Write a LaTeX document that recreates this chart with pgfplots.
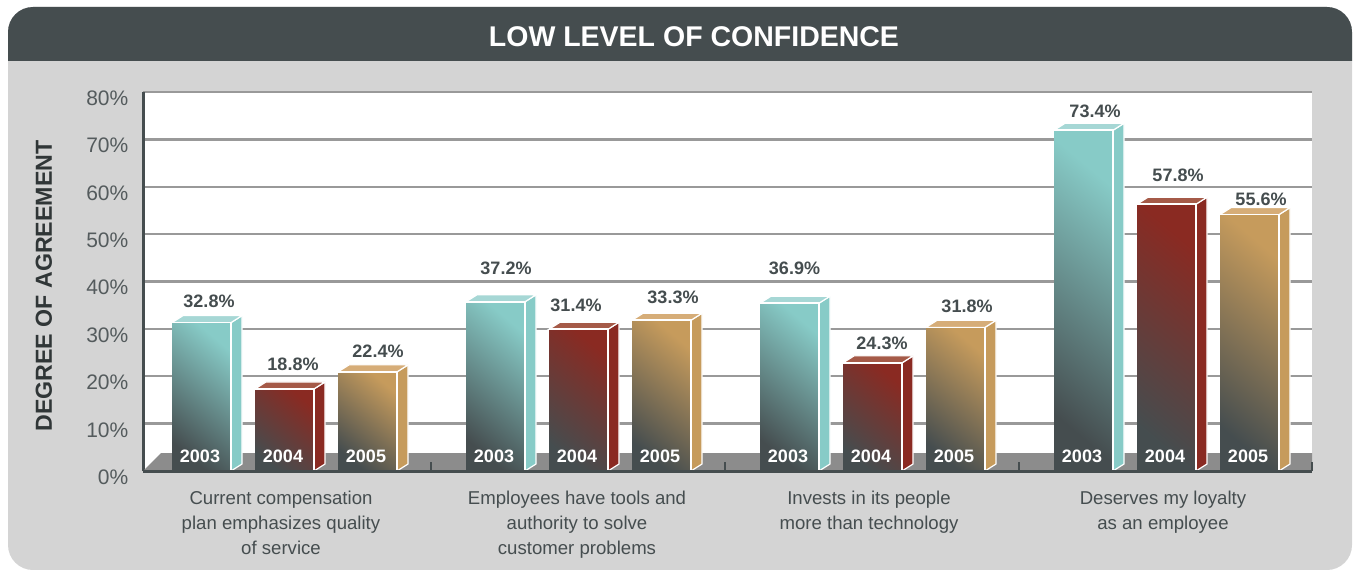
\documentclass[border=0pt]{standalone}
\usepackage{fontspec}
\setmainfont{Liberation Sans}
\usepackage{pgfplots}
\usepackage{pgfplotstable}
\pgfplotsset{compat=1.18}
\definecolor{panel}{HTML}{D4D4D4}
\definecolor{slate}{HTML}{454D4F}
\definecolor{gridgray}{HTML}{999999}
\definecolor{floorgray}{HTML}{8C8C8C}
\definecolor{tealF}{HTML}{87CBC7}
\definecolor{tealT}{HTML}{A6D7D5}
\definecolor{redF}{HTML}{8A2A22}
\definecolor{redT}{HTML}{A55A48}
\definecolor{tanF}{HTML}{C69B5C}
\definecolor{tanT}{HTML}{D6AD78}

% 1 picture pixel = 0.5pt; x column is the bar centre in pixels
% lx, ly place the value label
\pgfplotstableread{
x      v    lx    ly
201.5  32.8 209   35.88
495.5  37.2 506   42.85
789.5  36.9 794.5 42.85
1083.5 73.4 1095  75.99
}\seriesA
\pgfplotstableread{
x      v    lx    ly
284.5  18.8 293   22.59
578.5  31.4 576   35.04
872.5  24.3 882   27.02
1166.5 57.8 1178  62.48
}\seriesB
\pgfplotstableread{
x      v    lx    ly
367.5  22.4 378   25.33
661.5  33.3 673   36.73
955.5  31.8 967   34.83
1249.5 55.6 1261  57.41
}\seriesC

\def\dy{1.478}
% one 3D bar per row: side, top, then front as its own bar so the shading fits it
\newcommand{\bars}[3]{%
  \pgfplotsforeachungrouped \i in {0,1,2,3}{%
    \pgfplotstablegetelem{\i}{x}\of#1\let\bx\pgfplotsretval
    \pgfplotstablegetelem{\i}{v}\of#1\let\bv\pgfplotsretval
    \pgfmathsetmacro\xl{\bx-29.5}
    \pgfmathsetmacro\xr{\bx+29.5}
    \pgfmathsetmacro\xrb{\bx+40.5}
    \pgfmathsetmacro\xlb{\bx-18.5}
    \pgfmathsetmacro\yf{\bv-\dy}
    \addplot[fill=#2,draw=white,line width=.6pt] coordinates {(\xr,0) (\xrb,\dy) (\xrb,\bv) (\xr,\yf)} -- cycle;
    \addplot[fill=#3,draw=white,line width=.6pt] coordinates {(\xl,\yf) (\xlb,\bv) (\xrb,\bv) (\xr,\yf)} -- cycle;
    \addplot[ybar,bar width=29.5pt,bar shift=0pt,draw=none,
      bottom color=slate,top color=#2,shading angle=-40] coordinates {(\bx,\yf)};
    \addplot[white,line width=.8pt] coordinates {(\xl,\yf) (\xr,\yf) (\xr,0)};
  }%
}
% year inside, value above
\newcommand{\series}[4]{%
  \bars{#1}{#2}{#3}
  \addplot[draw=none,mark=none,nodes near coords={\bfseries #4},
    every node near coord/.append style={anchor=center,text=white,font=\fontsize{9}{11}\selectfont}]
    table[x expr=\thisrow{x}-1.5,y expr=3.16] {#1};
  \addplot[draw=none,mark=none,point meta=explicit,
    nodes near coords={\bfseries\pgfmathprintnumber[fixed,fixed zerofill,precision=1]{\pgfplotspointmeta}\%},
    every node near coord/.append style={anchor=center,text=slate,font=\fontsize{9}{11}\selectfont}]
    table[x=lx,y=ly,meta=v] {#1};
}

\begin{document}
\begin{tikzpicture}
  \useasboundingbox (0,0) rectangle (677pt,284.5pt);
  \begin{scope}[x=.5pt,y=.5pt]
    \fill[panel,rounded corners=12.5pt] (8,-1) rectangle (1352,562);
    \fill[slate] (8,508) [rounded corners=12.5pt] -- (8,562) -- (1352,562) [sharp corners] -- (1352,508) -- cycle;
  \end{scope}
  \begin{axis}[
    at={(71.5pt,49pt)},anchor=south west,
    scale only axis,
    width=584.5pt,height=189.5pt,
    xmin=143,xmax=1312,ymin=0,ymax=80,
    clip=false,
    axis background/.style={fill=white},
    axis lines=left,
    axis line style={-,line width=1.5pt,color=slate},
    ymajorgrids,
    grid style={gridgray,line width=1.2pt},
    major tick length=0pt,
    ytick={0,10,...,80},
    /pgf/number format/assume math mode=true,
    yticklabel={\pgfmathprintnumber{\tick}\%},
    yticklabel style={yshift=-3.1pt,xshift=-3.8pt,text=slate!92!white,font=\fontsize{10.5}{12}\selectfont},
    xtick={281,577,869,1163},
    xticklabels={{Current compensation\\plan emphasizes quality\\of service},
      {Employees have tools and\\authority to solve\\customer problems},
      {Invests in its people\\more than technology},
      {Deserves my loyalty\\as an employee}},
    xticklabel style={align=center,anchor=north,yshift=-6.3pt,text=slate,font=\fontsize{9.3}{12.5}\selectfont},
    ylabel={\bfseries DEGREE OF AGREEMENT},
    y label style={at={(axis description cs:-0.0847,0.488)},anchor=center,text=slate!70!black,font=\fontsize{11.6}{13}\selectfont},
    title={\bfseries LOW LEVEL OF CONFIDENCE},
    title style={at={(axis description cs:0.4713,1.145)},anchor=center,yshift=-6pt,text=white,font=\fontsize{14.25}{16}\selectfont},
  ]
    % floor of the 3D box
    \addplot[fill=floorgray,draw=none] coordinates {(143,0) (161,3.8) (1312,3.8) (1312,0)} -- cycle;
    % tick marks between groups
    \addplot[ycomb,mark=none,slate,line width=1pt] coordinates {(431,1.9) (725,1.9) (1019,1.9) (1312,1.9)};
    \series{\seriesA}{tealF}{tealT}{2003}
    \series{\seriesB}{redF}{redT}{2004}
    \series{\seriesC}{tanF}{tanT}{2005}
    % baseline back on top of the bars
    \addplot[slate,line width=1.5pt] coordinates {(143,0) (1312,0)};
  \end{axis}
\end{tikzpicture}
\end{document}
